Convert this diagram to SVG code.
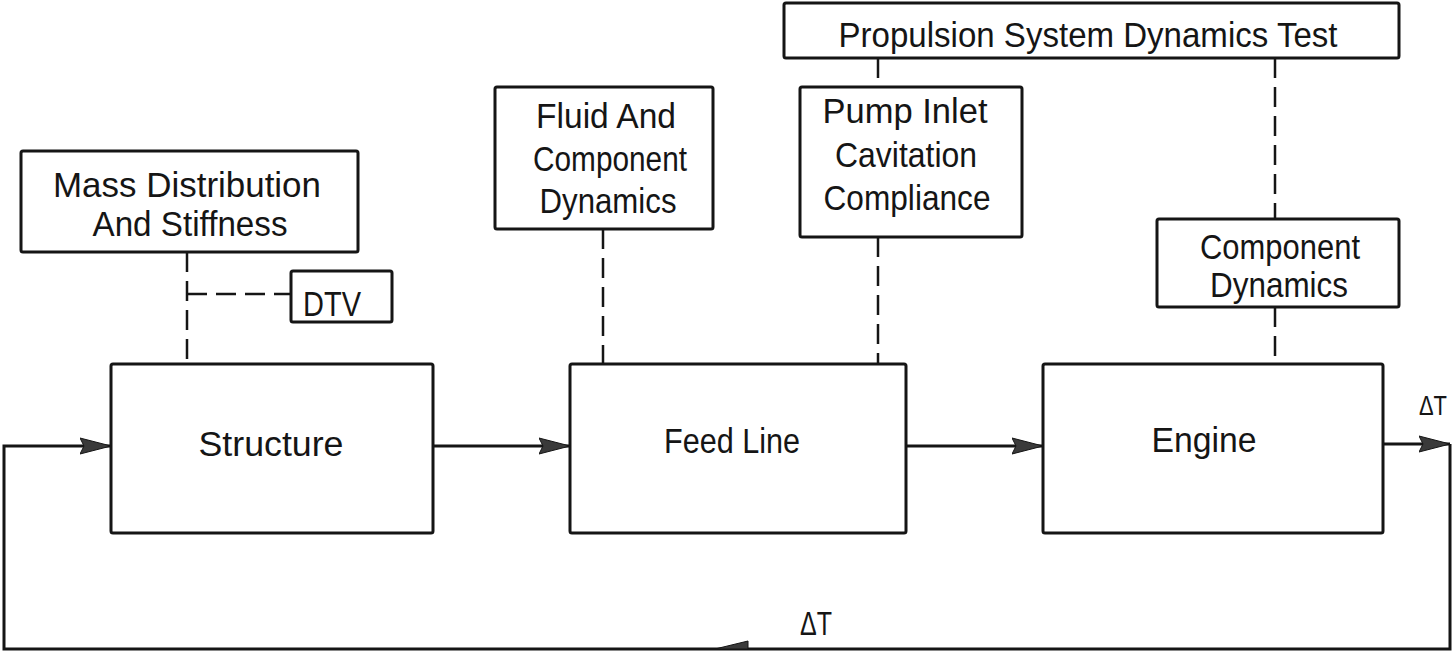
<svg xmlns="http://www.w3.org/2000/svg" width="1454" height="653" viewBox="0 0 1454 653">
<defs>
<style>
.box{fill:#fff;stroke:#151515;stroke-width:3}
.t{font-family:"Liberation Sans",Arial,sans-serif;font-size:35px;fill:#151515;text-anchor:middle}
.dt{font-family:"Liberation Sans",Arial,sans-serif;fill:#151515;text-anchor:middle}
.ln{fill:none;stroke:#151515;stroke-width:3}
.dash{fill:none;stroke:#151515;stroke-width:2.5;stroke-dasharray:20 9}
</style>
<marker id="arr" markerUnits="userSpaceOnUse" markerWidth="32" markerHeight="18" refX="31" refY="9" orient="auto">
<path d="M0,1 L31,9 L0,17 L4,9 Z" fill="#3a3a3a" stroke="#151515" stroke-width="1"/>
</marker>
</defs>
<rect width="1454" height="653" fill="#fff"/>

<g id="connectors">
<path class="dash" d="M187,252 V364"/>
<path class="dash" d="M187,294 H291"/>
<path class="dash" d="M603,229 V364"/>
<path class="dash" d="M878,58 V87"/>
<path class="dash" d="M878,237 V364"/>
<path class="dash" d="M1275,58 V219"/>
<path class="dash" d="M1275,307 V364"/>
<path class="ln" d="M433,446 H570" marker-end="url(#arr)"/>
<path class="ln" d="M906,446 H1043" marker-end="url(#arr)"/>
<path class="ln" d="M1383,444 H1450" marker-end="url(#arr)"/>
<path class="ln" d="M1450,444 V649 H4 V446 H111" marker-end="url(#arr)"/>
<path d="M715,649 L748,641 L748,649 Z" fill="#3a3a3a" stroke="#151515" stroke-width="1"/>
<text class="dt" x="1433" y="415" font-size="28" textLength="28" lengthAdjust="spacingAndGlyphs">ΔT</text>
<text class="dt" x="816" y="635" font-size="33" textLength="32" lengthAdjust="spacingAndGlyphs">ΔT</text>
</g>

<g id="mass">
<rect class="box" x="21" y="151" width="337" height="101" rx="2"/>
<text class="t" x="187" y="197" textLength="268" lengthAdjust="spacingAndGlyphs">Mass Distribution</text>
<text class="t" x="190" y="236" textLength="195" lengthAdjust="spacingAndGlyphs">And Stiffness</text>
</g>
<g id="dtv">
<rect class="box" x="291" y="271" width="101" height="51" rx="2"/>
<text class="t" x="332" y="316" textLength="58" lengthAdjust="spacingAndGlyphs">DTV</text>
</g>
<g id="fluid">
<rect class="box" x="495" y="87" width="218" height="142" rx="2"/>
<text class="t" x="606" y="128" textLength="140" lengthAdjust="spacingAndGlyphs">Fluid And</text>
<text class="t" x="610" y="171" textLength="154" lengthAdjust="spacingAndGlyphs">Component</text>
<text class="t" x="608" y="213" textLength="137" lengthAdjust="spacingAndGlyphs">Dynamics</text>
</g>
<g id="propulsion">
<rect class="box" x="784" y="3" width="615" height="55" rx="2"/>
<text class="t" x="1088" y="47" textLength="499" lengthAdjust="spacingAndGlyphs">Propulsion System Dynamics Test</text>
</g>
<g id="pump">
<rect class="box" x="800" y="87" width="222" height="150" rx="2"/>
<text class="t" x="905" y="123" textLength="165" lengthAdjust="spacingAndGlyphs">Pump Inlet</text>
<text class="t" x="906" y="167" textLength="142" lengthAdjust="spacingAndGlyphs">Cavitation</text>
<text class="t" x="907" y="210" textLength="167" lengthAdjust="spacingAndGlyphs">Compliance</text>
</g>
<g id="component">
<rect class="box" x="1157" y="219" width="242" height="88" rx="2"/>
<text class="t" x="1280" y="259" textLength="160" lengthAdjust="spacingAndGlyphs">Component</text>
<text class="t" x="1279" y="297" textLength="138" lengthAdjust="spacingAndGlyphs">Dynamics</text>
</g>
<g id="structure">
<rect class="box" x="111" y="364" width="322" height="169" rx="2"/>
<text class="t" x="271" y="456" textLength="145" lengthAdjust="spacingAndGlyphs">Structure</text>
</g>
<g id="feedline">
<rect class="box" x="570" y="364" width="336" height="169" rx="2"/>
<text class="t" x="732" y="453" textLength="136" lengthAdjust="spacingAndGlyphs">Feed Line</text>
</g>
<g id="engine">
<rect class="box" x="1043" y="364" width="340" height="169" rx="2"/>
<text class="t" x="1204" y="452" textLength="105" lengthAdjust="spacingAndGlyphs">Engine</text>
</g>
</svg>
